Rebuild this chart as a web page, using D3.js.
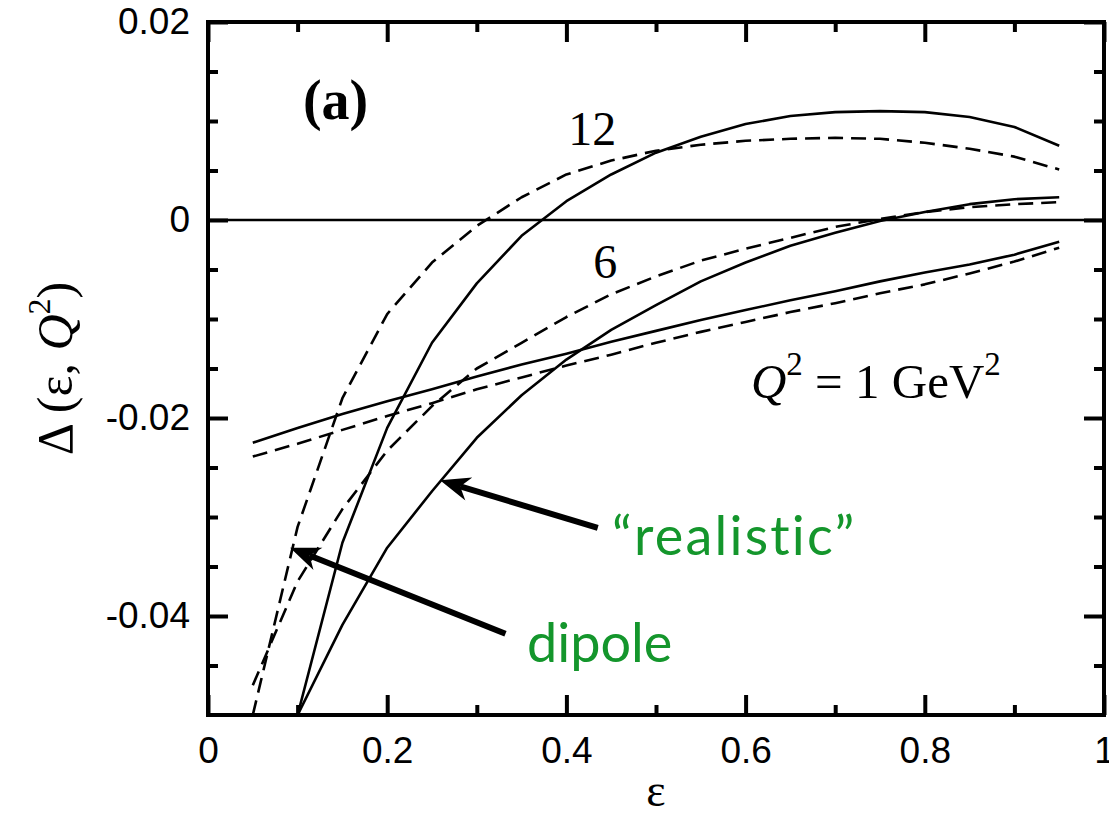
<!DOCTYPE html>
<html>
<head>
<meta charset="utf-8">
<script src="https://cdn.jsdelivr.net/npm/d3@7"></script>
<style>
  html, body { margin: 0; padding: 0; background: #fff; }
  svg { display: block; }
</style>
</head>
<body>
<svg id="chart" width="1109" height="824"></svg>
<script>
// epsilon grid (step 0.05)
const epsAll = [0.05, 0.10, 0.15, 0.20, 0.25, 0.30, 0.35, 0.40, 0.45, 0.50,
                0.55, 0.60, 0.65, 0.70, 0.75, 0.80, 0.85, 0.90, 0.95];
const epsHigh = [0.10, 0.15, 0.20, 0.25, 0.30, 0.35, 0.40, 0.45, 0.50,
                 0.55, 0.60, 0.65, 0.70, 0.75, 0.80, 0.85, 0.90, 0.95];

// Q^2 = 1 GeV^2
const realisticQ1 = [-0.0225, -0.0210, -0.0196, -0.0183, -0.0171, -0.0158, -0.0146, -0.0135, -0.0123, -0.0112,
                     -0.0101, -0.0091, -0.0081, -0.0072, -0.0062, -0.0053, -0.0045, -0.0035, -0.0022];
const dipoleQ1 = [-0.0239, -0.0226, -0.0212, -0.0198, -0.0185, -0.0171, -0.0159, -0.0147, -0.0136, -0.0124,
                  -0.0113, -0.0103, -0.0093, -0.0084, -0.0074, -0.0065, -0.0054, -0.0042, -0.0028];
// Q^2 = 6 GeV^2
const realisticQ6 = [-0.0500, -0.0409, -0.0331, -0.0274, -0.0220, -0.0177, -0.0141, -0.0111, -0.0086,
                     -0.0062, -0.0043, -0.0026, -0.0013, -0.0001, 0.0008, 0.0016, 0.0021, 0.0023];
const dipoleQ6 = [-0.0470, -0.0365, -0.0292, -0.0233, -0.0188, -0.0150, -0.0124, -0.0098, -0.0075, -0.0057,
                  -0.0041, -0.0029, -0.0018, -0.0007, 0.0001, 0.0008, 0.0013, 0.0016, 0.0018];
// Q^2 = 12 GeV^2
const realisticQ12 = [-0.0500, -0.0326, -0.0210, -0.0124, -0.0064, -0.0016, 0.0019, 0.0046, 0.0068,
                      0.0084, 0.0097, 0.0105, 0.0109, 0.0110, 0.0109, 0.0104, 0.0094, 0.0075];
const dipoleQ12 = [-0.0500, -0.0310, -0.0180, -0.0095, -0.0043, -0.0006, 0.0023, 0.0046, 0.0060, 0.0070,
                   0.0076, 0.0080, 0.0082, 0.0083, 0.0082, 0.0078, 0.0072, 0.0064, 0.0051];

// axis ticks and labels
const xMajorTicks = [0, 0.2, 0.4, 0.6, 0.8, 1];
const xMajorLabels = ["0", "0.2", "0.4", "0.6", "0.8", "1"];
const xMinorTicks = [0.1, 0.3, 0.5, 0.7, 0.9];
const yMajorTicks = [0.02, 0, -0.02, -0.04];
const yMajorLabels = ["0.02", "0", "-0.02", "-0.04"];
const yMinorTicks = [0.015, 0.01, 0.005, -0.005, -0.01, -0.015, -0.025, -0.03, -0.035, -0.045];

const series = [
  { eps: epsAll,  values: realisticQ1,  dashed: false },
  { eps: epsAll,  values: dipoleQ1,     dashed: true },
  { eps: epsHigh, values: realisticQ6,  dashed: false },
  { eps: epsAll,  values: dipoleQ6,     dashed: true },
  { eps: epsHigh, values: realisticQ12, dashed: false },
  { eps: epsAll,  values: dipoleQ12,    dashed: true }
];

const svg = d3.select("#chart");
const plotLeft = 208, plotRight = 1104, plotTop = 22, plotBottom = 715;

const x = d3.scaleLinear().domain([0, 1]).range([plotLeft, plotRight]);
const y = d3.scaleLinear().domain([-0.05, 0.02]).range([plotBottom, plotTop]);

const sansFont = "'Liberation Sans', Arial, Helvetica, sans-serif";
const serifFont = "'Liberation Serif', 'Times New Roman', Times, serif";
const green = "#14962c";

svg.append("defs").append("clipPath").attr("id", "plot-clip")
  .append("rect").attr("x", plotLeft).attr("y", plotTop)
  .attr("width", plotRight - plotLeft).attr("height", plotBottom - plotTop);

// zero line
svg.append("line")
  .attr("x1", x(0)).attr("x2", x(1))
  .attr("y1", y(0)).attr("y2", y(0))
  .attr("stroke", "#000").attr("stroke-width", 2.6);

// curves
const line = d3.line().x(d => x(d[0])).y(d => y(d[1]));
svg.append("g").attr("clip-path", "url(#plot-clip)")
  .selectAll("path").data(series).join("path")
  .attr("d", s => line(s.eps.map((e, i) => [e, s.values[i]])))
  .attr("fill", "none")
  .attr("stroke", "#000")
  .attr("stroke-width", 2.6)
  .attr("stroke-linejoin", "round")
  .attr("stroke-dasharray", s => s.dashed ? "15,8" : null);

// axes with inward ticks on all four sides
function styleAxis(g, showLabels) {
  g.select(".domain").remove();
  g.selectAll(".tick line").attr("stroke", "#000").attr("stroke-width", 4);
  if (!showLabels) g.selectAll(".tick text").remove();
  else g.selectAll(".tick text")
        .attr("font-family", sansFont).attr("font-size", 37).attr("fill", "#000");
}

svg.append("g").attr("transform", `translate(0,${plotBottom})`)
  .call(d3.axisBottom(x).tickValues(xMajorTicks).tickSize(-20).tickPadding(22)
        .tickFormat((d, i) => xMajorLabels[i]))
  .call(g => styleAxis(g, true));
svg.append("g").attr("transform", `translate(0,${plotBottom})`)
  .call(d3.axisBottom(x).tickValues(xMinorTicks).tickSize(-10))
  .call(g => styleAxis(g, false));
svg.append("g").attr("transform", `translate(0,${plotTop})`)
  .call(d3.axisTop(x).tickValues(xMajorTicks).tickSize(-20))
  .call(g => styleAxis(g, false));
svg.append("g").attr("transform", `translate(0,${plotTop})`)
  .call(d3.axisTop(x).tickValues(xMinorTicks).tickSize(-10))
  .call(g => styleAxis(g, false));

svg.append("g").attr("transform", `translate(${plotLeft},0)`)
  .call(d3.axisLeft(y).tickValues(yMajorTicks).tickSize(-20).tickPadding(18)
        .tickFormat((d, i) => yMajorLabels[i]))
  .call(g => styleAxis(g, true));
svg.append("g").attr("transform", `translate(${plotLeft},0)`)
  .call(d3.axisLeft(y).tickValues(yMinorTicks).tickSize(-10))
  .call(g => styleAxis(g, false));
svg.append("g").attr("transform", `translate(${plotRight},0)`)
  .call(d3.axisRight(y).tickValues(yMajorTicks).tickSize(-20))
  .call(g => styleAxis(g, false));
svg.append("g").attr("transform", `translate(${plotRight},0)`)
  .call(d3.axisRight(y).tickValues(yMinorTicks).tickSize(-10))
  .call(g => styleAxis(g, false));

// frame
svg.append("rect")
  .attr("x", plotLeft).attr("y", plotTop)
  .attr("width", plotRight - plotLeft).attr("height", plotBottom - plotTop)
  .attr("fill", "none").attr("stroke", "#000").attr("stroke-width", 4);

// axis titles
svg.append("text")
  .attr("x", x(0.5)).attr("y", 806)
  .attr("text-anchor", "middle")
  .attr("font-family", serifFont).attr("font-size", 46)
  .text("ε");

const yTitle = svg.append("text")
  .attr("transform", `translate(72,${(plotTop + plotBottom) / 2}) rotate(-90)`)
  .attr("text-anchor", "middle")
  .attr("font-family", serifFont).attr("font-size", 50);
yTitle.append("tspan").text("Δ (ε, ");
yTitle.append("tspan").attr("font-style", "italic").text("Q");
yTitle.append("tspan").attr("font-size", 32).attr("dy", -22).text("2");
yTitle.append("tspan").attr("dy", 22).text(")");

// panel tag
svg.append("text")
  .attr("x", x(0.106)).attr("y", y(0.0102))
  .attr("font-family", serifFont).attr("font-size", 56).attr("font-weight", "bold")
  .text("(a)");

// Q^2 labels on the curves
svg.append("text")
  .attr("x", x(0.402)).attr("y", y(0.0076))
  .attr("font-family", serifFont).attr("font-size", 48)
  .text("12");
svg.append("text")
  .attr("x", x(0.430)).attr("y", y(-0.0059))
  .attr("font-family", serifFont).attr("font-size", 48)
  .text("6");
const q1 = svg.append("text")
  .attr("x", x(0.606)).attr("y", y(-0.0180))
  .attr("font-family", serifFont).attr("font-size", 49);
q1.append("tspan").attr("font-style", "italic").text("Q");
q1.append("tspan").attr("font-size", 33).attr("dy", -23).text("2");
q1.append("tspan").attr("dy", 23).text(" = 1 GeV");
q1.append("tspan").attr("font-size", 33).attr("dy", -23).text("2");

// form-factor annotations with arrows
const notes = [
  { text: "\u201Crealistic\u201D", tx: 0.451, ty: -0.0338, spacing: 2.2,
    from: [0.435, -0.0311], to: [0.259, -0.0263] },
  { text: "dipole", tx: 0.356, ty: -0.0446, spacing: 0,
    from: [0.332, -0.0418], to: [0.0916, -0.0331] }
];

notes.forEach(n => {
  svg.append("text")
    .attr("x", x(n.tx)).attr("y", y(n.ty))
    .attr("font-family", "Lato, 'Open Sans', sans-serif").attr("font-size", 54)
    .attr("letter-spacing", n.spacing)
    .attr("fill", green)
    .text(n.text);

  const x0 = x(n.from[0]), y0 = y(n.from[1]);
  const x1 = x(n.to[0]), y1 = y(n.to[1]);
  const ang = Math.atan2(y1 - y0, x1 - x0);
  const L = 30, W = 12, notch = 9;
  const ux = Math.cos(ang), uy = Math.sin(ang);
  const px = -uy, py = ux;
  const bx = x1 - ux * L, by = y1 - uy * L;
  svg.append("line")
    .attr("x1", x0).attr("y1", y0)
    .attr("x2", x1 - ux * (L - notch)).attr("y2", y1 - uy * (L - notch))
    .attr("stroke", "#000").attr("stroke-width", 6);
  svg.append("path")
    .attr("d", `M${x1},${y1} L${bx + px * W},${by + py * W} L${x1 - ux * (L - notch)},${y1 - uy * (L - notch)} L${bx - px * W},${by - py * W} Z`)
    .attr("fill", "#000");
});
</script>
</body>
</html>
